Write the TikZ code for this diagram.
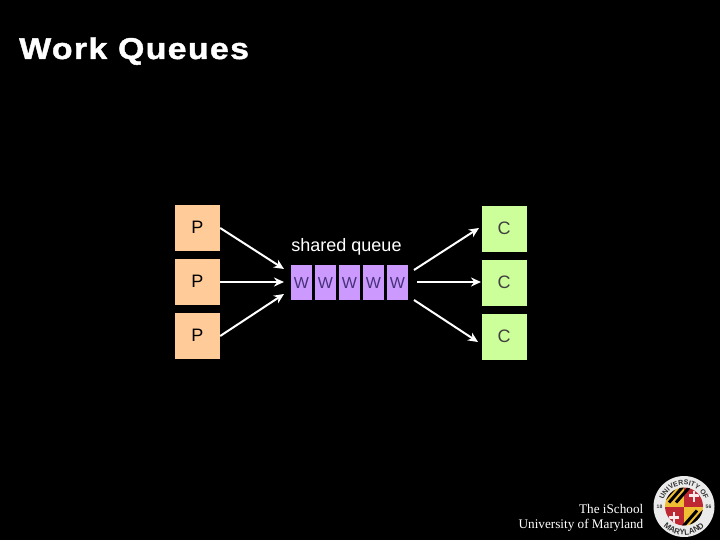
\documentclass[tikz,border=0pt]{standalone}
\usepackage{fontspec}
\setmainfont{Liberation Sans}
\newfontfamily\serifface{Liberation Serif}
\newfontfamily\titleface[FakeStretch=1.13,FakeBold=1.4,LetterSpace=4.4]{Liberation Sans Bold}
\usetikzlibrary{decorations.text,arrows.meta}
\definecolor{pfill}{RGB}{255,204,153}
\definecolor{cfill}{RGB}{204,255,153}
\definecolor{wfill}{RGB}{204,153,255}
\definecolor{wtext}{RGB}{70,50,120}
\definecolor{mdred}{RGB}{190,40,50}
\definecolor{mdgold}{RGB}{240,190,50}
\tikzset{
 pbox/.style={draw=none,fill=pfill,minimum width=45pt,minimum height=46pt,inner sep=0pt,text=black,font=\fontsize{18}{20}\selectfont},
 cbox/.style={pbox,fill=cfill,text=black!75},
 wbox/.style={draw=none,fill=wfill,minimum width=21pt,minimum height=35pt,inner sep=0pt,text=wtext,font=\fontsize{16}{18}\selectfont},
 conn/.style={draw=white,line width=2pt,-{Stealth[length=10pt,width=9pt]}},
 sealtext/.style={font=\fontsize{5}{6}\bfseries\selectfont,text=black!80,inner sep=0pt},
}
\begin{document}
\begin{tikzpicture}[x=1pt,y=-1pt]
\useasboundingbox[fill=black] (0,0) rectangle (720,540);
\node[text=white,font=\titleface\fontsize{30}{32}\selectfont,anchor=base west,inner sep=0pt] (title) at (19,59) {Work Queues};
\node[pbox] (p1) at (197.5,228) {\raisebox{1pt}{P}};
\node[pbox] (p2) at (197.5,282) {\raisebox{1pt}{P}};
\node[pbox] (p3) at (197.5,336) {\raisebox{1pt}{P}};
\node[cbox] (c1) at (504,229) {\raisebox{1pt}{C}};
\node[cbox] (c2) at (504,283) {\raisebox{1pt}{C}};
\node[cbox] (c3) at (504,337) {\raisebox{1pt}{C}};
\node[wbox] (w1) at (301.5,282.5) {W};
\node[wbox] (w2) at (325.5,282.5) {W};
\node[wbox] (w3) at (349.5,282.5) {W};
\node[wbox] (w4) at (373.5,282.5) {W};
\node[wbox] (w5) at (397.5,282.5) {W};
\node[text=white,font=\fontsize{18}{20}\selectfont] (lbl) at (346.5,246.5) {shared queue};
\coordinate (ina) at (284,269);
\coordinate (inb) at (284,282);
\coordinate (inc) at (284,294);
\coordinate (outa) at (414,270);
\coordinate (outb) at (417,282);
\coordinate (outc) at (414,300);
\coordinate (enda) at (479,228);
\coordinate (endb) at (481,282);
\coordinate (endc) at (478,342);
\draw[conn] (p1.east) -- (ina);
\draw[conn] (p2.east) -- (inb);
\draw[conn] (p3.east) -- (inc);
\draw[conn] (outa) -- (enda);
\draw[conn] (outb) -- (endb);
\draw[conn] (outc) -- (endc);
\node[text=white,font=\serifface\fontsize{13.2}{15}\selectfont,align=right,anchor=south east,inner sep=0pt] (foot) at (643.5,531.5) {The iSchool\\University of Maryland};
% seal
\begin{scope}[shift={(684,506.5)},y=1pt]
\fill[white!92!black] (0,0) circle (30.5);
\path[postaction={decorate,decoration={text along path,text align=center,text={|\fontsize{7}{8}\bfseries\selectfont\color{black!80}|UNIVERSITY OF}}}] (-21.5,0) arc[start angle=180,end angle=0,radius=21.5];
\path[postaction={decorate,decoration={text along path,text align=center,text={|\fontsize{8}{9}\bfseries\selectfont\color{black!80}|MARYLAND}}}] (-28.5,0) arc[start angle=180,end angle=360,radius=28.5];
\node[sealtext] (sa) at (-24.5,0) {18};
\node[sealtext] (sb) at (24.5,0) {56};
\begin{scope}
\clip (0,0) circle (19);
\fill[mdgold] (-20,0) rectangle (0,20);
\fill[mdred] (0,0) rectangle (20,20);
\fill[mdred] (-20,-20) rectangle (0,0);
\fill[mdgold] (0,-20) rectangle (20,0);
\foreach \a in {0,1,2} {
 \draw[black,line width=3pt] (-22+7*\a,4) -- (-8+7*\a,20);
 \draw[black,line width=3pt] (-1+7*\a,-20) -- (13+7*\a,-4);
}
\draw[white!90!mdred,line width=2.5pt] (10,5) -- (10,16) (5,11) -- (15,11);
\draw[white!90!mdred,line width=2.5pt] (-10,-16) -- (-10,-5) (-15,-11) -- (-5,-11);
\end{scope}
\end{scope}
\end{tikzpicture}
\end{document}
